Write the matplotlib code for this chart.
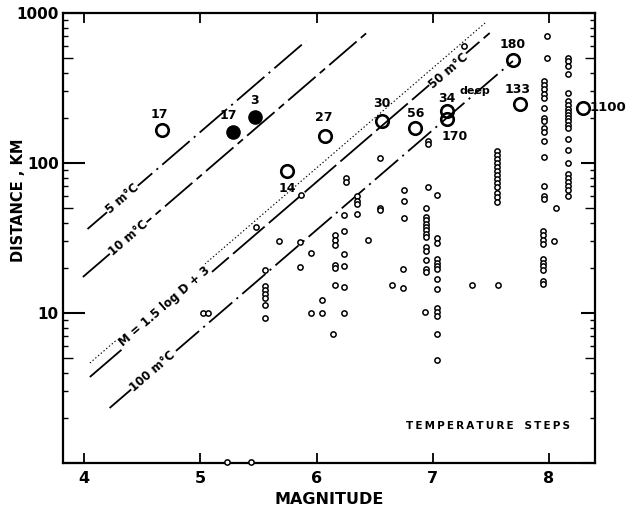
import numpy as np
import matplotlib.pyplot as plt
from matplotlib.ticker import FixedLocator, LogLocator, NullFormatter

plt.rcParams['font.family'] = 'DejaVu Sans'
plt.rcParams['font.weight'] = 'bold'
plt.rcParams['lines.scale_dashes'] = False

# small open circles (magnitude, distance km)
mag_small = [5.02, 5.07, 5.23, 5.44, 5.48,
             5.56, 5.56, 5.56, 5.56, 5.56, 5.56, 5.56,
             5.68, 5.86, 5.86, 5.87, 5.95, 5.95, 6.05, 6.05, 6.14,
             6.16, 6.16, 6.16, 6.16, 6.16, 6.16,
             6.25, 6.25, 6.24, 6.24, 6.24, 6.24, 6.24, 6.24,
             6.35, 6.35, 6.35, 6.35, 6.44, 6.55, 6.55, 6.55, 6.65,
             6.75, 6.75, 6.75, 6.74, 6.74,
             6.96, 6.94, 6.94, 6.94, 6.94, 6.94, 6.94, 6.94, 6.94,
             6.94, 6.94, 6.94, 6.94, 6.94, 6.93, 6.96, 6.96,
             7.04, 7.04, 7.04, 7.04, 7.04, 7.04, 7.04, 7.04, 7.04,
             7.04, 7.04, 7.04, 7.04, 7.04,
             7.27, 7.34, 7.56,
             7.55, 7.55, 7.55, 7.55, 7.55, 7.55, 7.55, 7.55, 7.55, 7.55, 7.55, 7.55, 7.55,
             7.98, 7.98, 7.96, 7.96, 7.96, 7.96, 7.96, 7.96, 7.96, 7.96, 7.96, 7.96,
             7.96, 7.96, 7.96, 7.96, 7.96, 7.95, 7.95, 7.95, 7.95, 7.95, 7.95, 7.95,
             7.95, 7.95, 7.95,
             8.06, 8.04,
             8.16, 8.16, 8.16, 8.16, 8.16, 8.16, 8.16, 8.16, 8.16, 8.16, 8.16, 8.16,
             8.16, 8.16, 8.16, 8.16, 8.16, 8.16, 8.16, 8.16, 8.16, 8.16, 8.16]
dist_small = [10, 10, 1.02, 1.02, 37.4,
              19.4, 15.1, 14.2, 13.4, 12.6, 11.3, 9.3,
              30.2, 29.7, 20.3, 61.2, 25.1, 10, 12.2, 10, 7.24,
              33.1, 30.7, 28.4, 20.9, 20.0, 15.4,
              79.4, 74.7, 45.0, 35.2, 24.7, 20.6, 14.9, 10,
              60.3, 55.8, 53.3, 45.7, 30.7, 108, 50.1, 48.6, 15.4,
              66.1, 55.8, 43.0, 19.7, 14.7,
              69.2, 50.1, 43.7, 41.7, 39.2, 37.4, 35.8, 33.6, 32.1,
              27.5, 25.9, 22.6, 19.7, 18.8, 10.2, 140, 133,
              61.2, 31.6, 29.3, 22.9, 21.5, 20.6, 19.7, 16.9, 14.5,
              10.8, 10.2, 9.55, 7.24, 4.86,
              603, 15.4, 15.4,
              120, 113, 106, 100, 94.2, 88.5, 82.7, 78.0, 73.4, 69.2, 63.5, 59.8, 55.0,
              703, 501, 352, 331, 311, 288, 271, 233, 200, 191, 171, 161,
              140, 110, 70.3, 60.3, 57.5, 35.2, 33.1, 30.7, 28.8, 22.9, 21.5, 20.6,
              19.4, 16.3, 15.6,
              50.1, 30.2,
              501, 479, 443, 392, 293, 259, 244, 229, 219, 209, 200, 191,
              179, 171, 145, 122, 100, 84.5, 79.4, 74.7, 70.3, 66.1, 60.3]

# temperature step events (large circles)
mag_big = [4.67, 5.75, 6.07, 6.56, 6.85, 7.12, 7.12, 7.69, 7.75, 8.29]
dist_big = [166, 88, 151, 191, 171, 222, 196, 486, 247, 233]
mag_filled = [5.28, 5.47]
dist_filled = [161, 203]

# event labels: text, magnitude, distance
lab_text = ['17', '17', '3', '14', '27', '30', '56', '170', '180', '133']
lab_mag = [4.65, 5.24, 5.47, 5.75, 6.06, 6.56, 6.85, 7.19, 7.69, 7.73]
lab_dist = [212, 206, 263, 67.1, 200, 251, 215, 151, 612, 311]

# lines M = 1.5 log D + c
line_c = [1.69, 2.13, 3.05, 3.19, 3.67]
line_m0 = [4.03, 3.99, 4.05, 4.05, 4.22]
line_m1 = [5.91, 6.44, 7.45, 7.49, 7.69]
line_style = [(0, (26, 4, 1.5, 4)), (0, (26, 4, 5, 4)), (0, (1, 1.6)),
              (0, (30, 4)), (0, (22, 4, 1.5, 4))]
line_width = [1.3, 1.3, 0.8, 1.3, 1.3]

fig = plt.figure(figsize=(6.28, 5.14), dpi=100)
ax = fig.add_axes([0.1003, 0.0992, 0.8472, 0.8755])
ax.set_yscale('log')
ax.set_xlim(3.819, 8.396)
ax.set_ylim(1, 1000)

for c, m0, m1, ls, lw in zip(line_c, line_m0, line_m1, line_style, line_width):
    mm = np.array([m0, m1])
    ax.plot(mm, 10 ** ((mm - c) / 1.5), color='black', lw=lw, ls=ls)

# text angle of the lines on screen
fig.canvas.draw()
p = ax.transData.transform([(4, 10 ** (1 / 1.5)), (7, 10 ** (4 / 1.5))])
ang = np.degrees(np.arctan2(p[1, 1] - p[0, 1], p[1, 0] - p[0, 0]))

box = dict(facecolor='white', edgecolor='none', pad=0.5)
line_lab = ['5 m°C', '10 m°C', 'M = 1.5 log D + 3', '50 m°C', '100 m°C']
line_lab_m = [4.33, 4.38, 4.69, 7.14, 4.59]
line_lab_c = [1.69, 2.13, 3.12, 3.22, 3.67]
for t, m, c in zip(line_lab, line_lab_m, line_lab_c):
    ax.text(m, 10 ** ((m - c) / 1.5), t, rotation=ang, rotation_mode='anchor',
            ha='center', va='center', fontsize=8.5, fontweight='bold', bbox=box, zorder=4)

ax.plot(mag_small, dist_small, 'o', ms=3.8, mfc='white', mec='black', mew=1.1,
        clip_on=False, zorder=5)
ax.plot(mag_big, dist_big, 'o', ms=9, mfc='none', mec='black', mew=1.9, zorder=5)
ax.plot(mag_filled, dist_filled, 'o', ms=9.5, mfc='black', mec='black', zorder=5)

for t, m, d in zip(lab_text, lab_mag, lab_dist):
    ax.text(m, d, t, ha='center', va='center', fontsize=9, fontweight='bold')
ax.text(7.12, 271, '34', ha='center', va='center', fontsize=9, fontweight='bold')
ax.text(7.23, 302, 'deep', ha='left', va='center', fontsize=8, fontweight='bold')
ax.text(8.35, 233, '1100', ha='left', va='center', fontsize=9.5, fontweight='bold',
        clip_on=False)
ax.text(8.18, 1.77, '\u2009'.join('TEMPERATURE') + '   ' + '\u2009'.join('STEPS'),
        ha='right', va='center', fontsize=7.5, fontweight='bold')

ax.xaxis.set_major_locator(FixedLocator([4, 5, 6, 7, 8]))
ax.set_xticklabels(['4', '5', '6', '7', '8'], fontsize=11.5, fontweight='bold')
ax.yaxis.set_major_locator(FixedLocator([1, 10, 100, 1000]))
ax.set_yticklabels(['', '10', '100', '1000'], fontsize=11, fontweight='bold')
ax.yaxis.set_minor_locator(LogLocator(base=10, subs=np.arange(2, 10)))
ax.yaxis.set_minor_formatter(NullFormatter())
ax.tick_params(axis='x', which='major', direction='in', top=True, length=7, width=1.3, pad=6)
ax.tick_params(axis='y', which='major', direction='in', right=True, length=16, width=1.5, pad=3)
ax.tick_params(axis='y', which='minor', direction='in', right=True, length=3.5, width=1)

fig.canvas.draw()
for t in ax.yaxis.get_major_ticks():
    t.tick2line.set_markersize(10)
for t, v in zip(ax.yaxis.get_minor_ticks(), ax.yaxis.get_minorticklocs()):
    if abs(np.log10(v) % 1 - np.log10(5)) < 0.01:
        t.tick1line.set_markersize(7)
        t.tick2line.set_markersize(7)

for s in ax.spines.values():
    s.set_linewidth(1.6)

ax.set_xlabel('MAGNITUDE', fontsize=11.5, fontweight='bold', labelpad=4)
fig.text(19 / 628, 1 - 200 / 514, 'DISTANCE , KM', rotation=90, ha='center',
         va='center', fontsize=10.5, fontweight='bold')

fig.savefig('out.png', dpi=100)
